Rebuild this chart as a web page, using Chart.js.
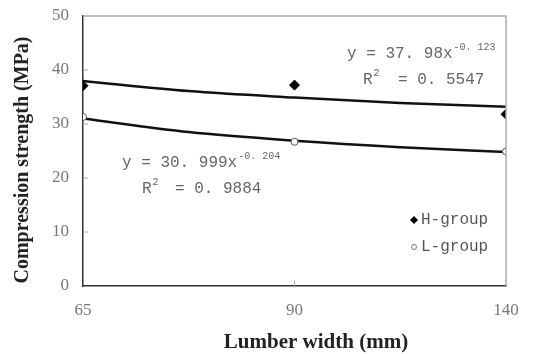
<!DOCTYPE html>
<html>
<head>
<meta charset="utf-8">
<script src="https://cdn.jsdelivr.net/npm/chart.js@4"></script>
<style>
  html, body { margin: 0; padding: 0; background: #fff; }
  #wrap { width: 537px; height: 354px; }
</style>
</head>
<body>
<div id="wrap"><canvas id="chartCanvas"></canvas></div>
<script>
// lumber widths are plotted as equally spaced categories (1, 2, 3)
const widthLabels = ['65', '90', '140'];
const widthIndex = [1, 2, 3];
const hGroup = [37.1, 37.2, 31.8];
const lGroup = [31.3, 26.7, 24.9];

// power trend lines at x = 1, 1.5, 2, 2.5, 3
const trendX = [1, 1.5, 2, 2.5, 3];
const hTrend = [37.98, 36.1, 34.9, 33.9, 33.2];
const lTrend = [31.0, 28.5, 26.9, 25.7, 24.8];

const yTicks = [0, 10, 20, 30, 40, 50];

const serif = '"Liberation Serif", "DejaVu Serif", serif';
const mono = '"Liberation Mono", "DejaVu Sans Mono", monospace';
const toPoints = (xs, ys) => xs.map((x, i) => ({ x: x, y: ys[i] }));

// frame, inner ticks, axis titles, equations and legend
const decor = {
    id: 'decor',
    afterDraw(chart) {
        const ctx = chart.ctx;
        const a = chart.chartArea;
        const xs = chart.scales.x, ys = chart.scales.y;
        ctx.save();
        // top and right frame
        ctx.strokeStyle = '#aaa';
        ctx.lineWidth = 1.5;
        ctx.beginPath();
        ctx.moveTo(a.left, a.top);
        ctx.lineTo(a.right, a.top);
        ctx.lineTo(a.right, a.bottom);
        ctx.stroke();
        // small inner tick marks
        ctx.lineWidth = 1;
        ctx.beginPath();
        yTicks.slice(1, -1).forEach(v => {
            const py = ys.getPixelForValue(v);
            ctx.moveTo(a.left, py);
            ctx.lineTo(a.left + 5, py);
        });
        const px = xs.getPixelForValue(2);
        ctx.moveTo(px, a.bottom);
        ctx.lineTo(px, a.bottom - 5);
        ctx.stroke();

        // axis titles (both sit a little off centre in the original)
        ctx.fillStyle = '#222';
        ctx.textAlign = 'center';
        ctx.textBaseline = 'alphabetic';
        ctx.font = 'bold 21px ' + serif;
        ctx.fillText('Lumber width (mm)', 316, 348);
        ctx.save();
        ctx.translate(23, 160);
        ctx.rotate(-Math.PI / 2);
        ctx.textBaseline = 'middle';
        ctx.font = 'bold 20px ' + serif;
        ctx.fillText('Compression strength (MPa)', 0, 0);
        ctx.restore();
        ctx.textAlign = 'left';

        // trend equations
        ctx.fillStyle = '#666';
        const text = (s, x, y) => {
            ctx.font = '16px ' + mono;
            ctx.fillText(s, x, y);
            return x + ctx.measureText(s).width;
        };
        const sup = (s, x, y) => {
            ctx.font = '10px ' + mono;
            ctx.fillText(s, x, y - 8);
        };
        sup('-0. 123', text('y = 37. 98x', 347, 58) + 1, 58);
        sup('2', text('R', 363, 84) + 1, 84);
        text('= 0. 5547', 398, 84);
        sup('-0. 204', text('y = 30. 999x', 122, 167) + 1, 167);
        sup('2', text('R', 142, 193) + 1, 193);
        text('= 0. 9884', 175, 193);

        // legend
        ctx.font = '16px ' + mono;
        ctx.fillStyle = '#555';
        ctx.textBaseline = 'middle';
        ctx.fillText('H-group', 421, 220);
        ctx.fillText('L-group', 421, 247);
        ctx.fillStyle = '#000';
        ctx.beginPath();
        ctx.moveTo(414, 216);
        ctx.lineTo(418, 220);
        ctx.lineTo(414, 224);
        ctx.lineTo(410, 220);
        ctx.closePath();
        ctx.fill();
        ctx.strokeStyle = '#777';
        ctx.beginPath();
        ctx.arc(414, 247, 2.5, 0, Math.PI * 2);
        ctx.stroke();
        ctx.restore();
    }
};

new Chart(document.getElementById('chartCanvas'), {
    type: 'scatter',
    data: {
        datasets: [
            {
                label: 'H-group',
                data: toPoints(widthIndex, hGroup),
                pointStyle: 'rectRot',
                pointRadius: 5,
                backgroundColor: '#000',
                borderColor: '#000',
                borderWidth: 1
            },
            {
                label: 'L-group',
                data: toPoints(widthIndex, lGroup),
                pointStyle: 'circle',
                pointRadius: 3.5,
                backgroundColor: '#fff',
                borderColor: '#555',
                borderWidth: 1
            },
            {
                label: 'H trend',
                type: 'line',
                data: toPoints(trendX, hTrend),
                showLine: true,
                pointRadius: 0,
                borderColor: '#111',
                borderWidth: 2.5,
                cubicInterpolationMode: 'monotone',
                fill: false
            },
            {
                label: 'L trend',
                type: 'line',
                data: toPoints(trendX, lTrend),
                showLine: true,
                pointRadius: 0,
                borderColor: '#111',
                borderWidth: 2.5,
                cubicInterpolationMode: 'monotone',
                fill: false
            }
        ]
    },
    options: {
        responsive: true,
        maintainAspectRatio: false,
        animation: false,
        layout: { padding: { left: 0, right: 31, top: 16, bottom: 0 } },
        plugins: {
            legend: { display: false },
            tooltip: { enabled: false }
        },
        scales: {
            x: {
                type: 'linear',
                min: 1,
                max: 3,
                afterFit: s => { s.height = 68; },
                afterBuildTicks: s => { s.ticks = widthIndex.map(v => ({ value: v })); },
                grid: { display: true, drawOnChartArea: false, drawTicks: false },
                border: { color: '#333', width: 1.5 },
                ticks: {
                    padding: 14,
                    color: '#777',
                    font: { family: serif, size: 17 },
                    callback: v => widthLabels[widthIndex.indexOf(v)]
                },
                title: { display: false }
            },
            y: {
                min: 0,
                max: 50,
                afterFit: s => { s.width = 83; s.paddingTop = 0; s.paddingBottom = 0; },
                afterBuildTicks: s => { s.ticks = yTicks.map(v => ({ value: v })); },
                grid: { display: true, drawOnChartArea: false, drawTicks: false },
                border: { color: '#333', width: 1.5 },
                ticks: {
                    padding: 14,
                    color: '#777',
                    font: { family: serif, size: 17 }
                },
                title: { display: false }
            }
        }
    },
    plugins: [decor]
});
</script>
</body>
</html>
